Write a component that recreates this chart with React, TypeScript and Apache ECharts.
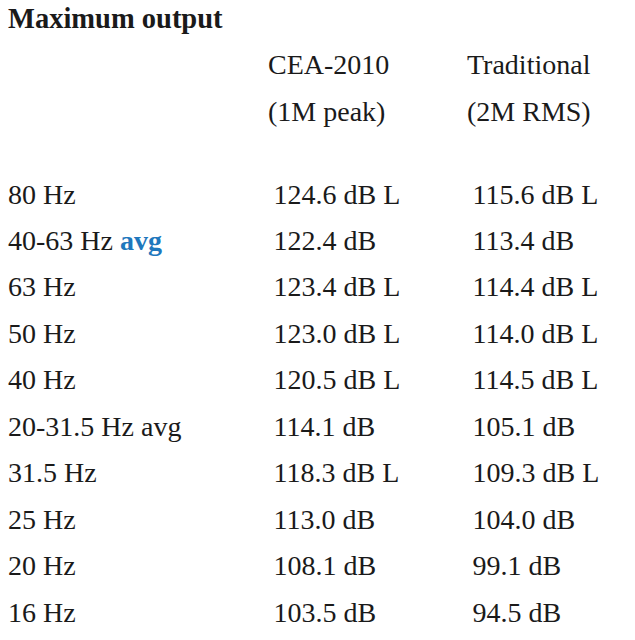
import React, { useEffect, useRef } from "react";
import * as echarts from "echarts";

const title = "Maximum output";
const columnHeaders = ["CEA-2010\n(1M peak)", "Traditional\n(2M RMS)"];
const rowLabels = [
  "80 Hz",
  "40-63 Hz avg",
  "63 Hz",
  "50 Hz",
  "40 Hz",
  "20-31.5 Hz avg",
  "31.5 Hz",
  "25 Hz",
  "20 Hz",
  "16 Hz",
];
const highlightedRow = "40-63 Hz avg";
const ceaValues = [124.6, 122.4, 123.4, 123.0, 120.5, 114.1, 118.3, 113.0, 108.1, 103.5];
const traditionalValues = [115.6, 113.4, 114.4, 114.0, 114.5, 105.1, 109.3, 104.0, 99.1, 94.5];
const limitedFlags = [true, false, true, true, true, false, true, false, false, false];

const FONT = "Liberation Serif";
const FS = 28;
const TEXT = "#1a1a1a";
const BLUE = "#1f78bd";

export default function App() {
  const ref = useRef<HTMLDivElement>(null);
  useEffect(() => {
    if (!ref.current) return;
    const chart = echarts.init(ref.current, undefined, { renderer: "svg" });
    const mkSeries = (vals: number[], col: number) => ({
      type: "scatter",
      symbolSize: 1,
      itemStyle: { color: "rgba(0,0,0,0)", opacity: 1 },
      data: vals.map((v, i) => [col, i, v]),
      label: {
        show: true,
        position: "right",
        distance: 0,
        offset: [5, 0],
        align: "left",
        verticalAlign: "middle",
        fontFamily: FONT,
        fontSize: FS,
        color: TEXT,
        formatter: (p: any) =>
          `${(p.value[2] as number).toFixed(1)} dB${limitedFlags[p.dataIndex] ? " L" : ""}`,
      },
    });
    chart.setOption({
      animation: false,
      backgroundColor: "#ffffff",
      textStyle: { fontFamily: FONT },
      title: {
        text: title,
        left: 3,
        top: -1,
        textStyle: { fontFamily: FONT, fontSize: 28.5, fontWeight: "bold", color: TEXT },
      },
      grid: { left: 268, right: 168, top: 194, bottom: 28 },
      xAxis: {
        type: "category",
        position: "top",
        boundaryGap: false,
        data: columnHeaders,
        axisLine: { show: false },
        axisTick: { show: false },
        splitLine: { show: false },
        axisLabel: {
          align: "left",
          margin: 59,
          lineHeight: 47,
          fontFamily: FONT,
          fontSize: FS,
          color: TEXT,
        },
      },
      yAxis: {
        type: "category",
        inverse: true,
        boundaryGap: false,
        data: rowLabels,
        axisLine: { show: false },
        axisTick: { show: false },
        splitLine: { show: false },
        axisLabel: {
          align: "left",
          margin: 260,
          fontFamily: FONT,
          fontSize: FS,
          color: TEXT,
          formatter: (v: string) =>
            v === highlightedRow ? v.replace(/avg$/, "{b|avg}") : v,
          rich: {
            b: { fontFamily: FONT, fontSize: FS, fontWeight: "bold", color: BLUE },
          },
        },
      },
      series: [mkSeries(ceaValues, 0), mkSeries(traditionalValues, 1)],
    });
    return () => chart.dispose();
  }, []);
  return (
    <div
      ref={ref}
      style={{ position: "absolute", left: 0, top: 0, width: 635, height: 640 }}
    />
  );
}
